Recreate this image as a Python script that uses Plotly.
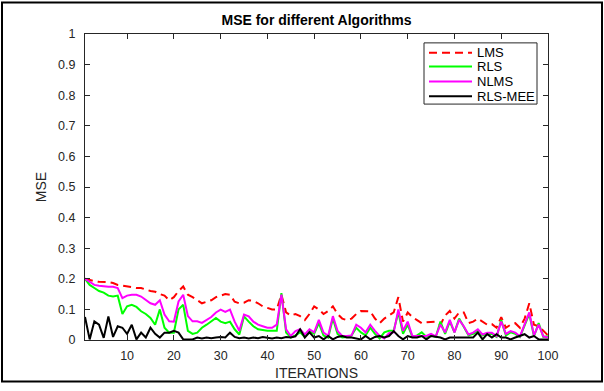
import plotly.graph_objects as go

iterations = list(range(1, 101))

lms = [0.200, 0.195, 0.192, 0.190, 0.190, 0.189, 0.186, 0.180, 0.178, 0.175,
       0.172, 0.170, 0.170, 0.165, 0.160, 0.158, 0.150, 0.145, 0.130, 0.140,
       0.160, 0.175, 0.148, 0.140, 0.130, 0.120, 0.125, 0.130, 0.140, 0.145,
       0.150, 0.148, 0.125, 0.120, 0.122, 0.130, 0.128, 0.120, 0.110, 0.105,
       0.100, 0.100, 0.148, 0.090, 0.080, 0.085, 0.078, 0.065, 0.085, 0.110,
       0.100, 0.085, 0.095, 0.110, 0.085, 0.070, 0.065, 0.070, 0.085, 0.095,
       0.095, 0.094, 0.070, 0.055, 0.070, 0.080, 0.090, 0.140, 0.060, 0.090,
       0.075, 0.065, 0.055, 0.058, 0.058, 0.060, 0.050, 0.080, 0.095, 0.070,
       0.090, 0.090, 0.055, 0.060, 0.070, 0.060, 0.050, 0.052, 0.040, 0.075,
       0.040, 0.050, 0.055, 0.040, 0.070, 0.120, 0.050, 0.045, 0.030, 0.015]

rls = [0.200, 0.180, 0.170, 0.160, 0.155, 0.145, 0.142, 0.145, 0.085, 0.110,
       0.115, 0.108, 0.094, 0.085, 0.072, 0.050, 0.100, 0.040, 0.024, 0.024,
       0.100, 0.115, 0.030, 0.020, 0.024, 0.040, 0.050, 0.060, 0.072, 0.060,
       0.055, 0.060, 0.035, 0.018, 0.077, 0.060, 0.045, 0.035, 0.032, 0.030,
       0.030, 0.030, 0.153, 0.024, 0.008, 0.015, 0.025, 0.010, 0.030, 0.020,
       0.055, 0.015, 0.008, 0.070, 0.020, 0.008, 0.010, 0.015, 0.040, 0.025,
       0.015, 0.040, 0.020, 0.005, 0.025, 0.030, 0.030, 0.090, 0.020, 0.050,
       0.010, 0.015, 0.025, 0.010, 0.015, 0.010, 0.060, 0.020, 0.060, 0.025,
       0.070, 0.040, 0.015, 0.020, 0.030, 0.015, 0.020, 0.020, 0.010, 0.065,
       0.015, 0.025, 0.020, 0.010, 0.045, 0.085, 0.012, 0.055, 0.010, 0.012]

nlms = [0.200, 0.190, 0.180, 0.177, 0.175, 0.174, 0.174, 0.170, 0.137, 0.145,
        0.148, 0.148, 0.142, 0.130, 0.120, 0.115, 0.130, 0.083, 0.061, 0.060,
        0.126, 0.148, 0.078, 0.061, 0.061, 0.056, 0.065, 0.075, 0.090, 0.099,
        0.092, 0.099, 0.060, 0.030, 0.083, 0.077, 0.060, 0.050, 0.045, 0.040,
        0.040, 0.050, 0.148, 0.035, 0.013, 0.029, 0.035, 0.018, 0.035, 0.025,
        0.066, 0.024, 0.014, 0.078, 0.030, 0.013, 0.013, 0.015, 0.050, 0.040,
        0.025, 0.050, 0.030, 0.013, 0.005, 0.022, 0.025, 0.100, 0.030, 0.060,
        0.013, 0.012, 0.013, 0.013, 0.020, 0.012, 0.050, 0.025, 0.066, 0.025,
        0.066, 0.045, 0.018, 0.024, 0.035, 0.018, 0.024, 0.024, 0.013, 0.060,
        0.020, 0.029, 0.024, 0.012, 0.050, 0.090, 0.015, 0.050, 0.012, 0.008]

rls_mee = [0.075, 0.002, 0.061, 0.050, 0.007, 0.077, 0.010, 0.045, 0.040, 0.020,
           0.050, 0.002, 0.024, 0.008, 0.040, 0.020, 0.008, 0.024, 0.024, 0.030,
           0.024, 0.002, 0.002, 0.002, 0.008, 0.005, 0.008, 0.006, 0.008, 0.010,
           0.008, 0.024, 0.010, 0.006, 0.008, 0.005, 0.008, 0.006, 0.010, 0.008,
           0.005, 0.008, 0.006, 0.010, 0.008, 0.012, 0.035, 0.008, 0.025, 0.008,
           0.013, 0.002, 0.013, 0.002, 0.010, 0.013, 0.008, 0.008, 0.004, 0.002,
           0.013, 0.002, 0.010, 0.013, 0.008, 0.013, 0.029, 0.013, 0.002, 0.013,
           0.008, 0.008, 0.013, 0.002, 0.013, 0.010, 0.008, 0.002, 0.008, 0.008,
           0.008, 0.008, 0.008, 0.008, 0.024, 0.002, 0.019, 0.008, 0.019, 0.008,
           0.008, 0.002, 0.008, 0.013, 0.019, 0.008, 0.013, 0.002, 0.002, 0.002]

series_names = ["LMS", "RLS", "NLMS", "RLS-MEE"]
series_values = [lms, rls, nlms, rls_mee]
series_colors = ["#FF0000", "#00FF00", "#FF00FF", "#000000"]
series_dash = ["8px,5px", "solid", "solid", "solid"]

x_ticks = [10, 20, 30, 40, 50, 60, 70, 80, 90, 100]
y_ticks = [0, 0.1, 0.2, 0.3, 0.4, 0.5, 0.6, 0.7, 0.8, 0.9, 1]
y_tick_labels = ["0", "0.1", "0.2", "0.3", "0.4", "0.5", "0.6", "0.7", "0.8", "0.9", "1"]

# plot-area geometry in pixels
L, R, T, B = 85, 548, 34, 344
W, H = R - L, B - T


def px(x):
    return (x - L) / W


def py(y):
    return (B - y) / H


FONT = "Liberation Sans, Arial, sans-serif"

fig = go.Figure()
for name, vals, col, dash in zip(series_names, series_values, series_colors, series_dash):
    fig.add_trace(go.Scatter(x=iterations, y=vals, mode="lines", name=name,
                             line=dict(color=col, width=2, dash=dash), showlegend=False,
                             hoverinfo="skip"))

axis_common = dict(showline=True, linecolor="#262626", linewidth=1, mirror="ticks",
                   ticks="inside", ticklen=5, tickcolor="#262626", showgrid=False,
                   zeroline=False, tickfont=dict(family=FONT, size=12.5, color="#262626"))

shapes = [dict(type="rect", xref="paper", yref="paper",
               x0=px(2), x1=px(602), y0=py(386), y1=py(2),
               line=dict(color="black", width=2), fillcolor="rgba(0,0,0,0)", layer="below"),
          dict(type="rect", xref="paper", yref="paper",
               x0=px(424), x1=px(537), y0=py(105), y1=py(43),
               line=dict(color="#262626", width=1), fillcolor="white", layer="above")]
annotations = []
row_y = [53, 67, 82, 97]
for name, col, dash, ry in zip(series_names, series_colors, series_dash, row_y):
    shapes.append(dict(type="line", xref="paper", yref="paper",
                       x0=px(429), x1=px(472), y0=py(ry), y1=py(ry),
                       line=dict(color=col, width=2, dash=dash), layer="above"))
    annotations.append(dict(text=name, xref="paper", yref="paper", x=px(475), y=py(ry),
                            xanchor="left", yanchor="middle", showarrow=False,
                            font=dict(family=FONT, size=13, color="#000000")))

fig.update_layout(
    width=604, height=391,
    margin=dict(l=L, r=604 - R, t=T, b=391 - B),
    paper_bgcolor="white", plot_bgcolor="white",
    title=dict(text="<b>MSE for different Algorithms</b>", x=(L + R) / 2 / 604, xanchor="center",
               y=1 - 20 / 391, yanchor="middle",
               font=dict(family=FONT, size=14, color="#000000")),
    xaxis=dict(range=[1, 100], tickvals=x_ticks, ticklabelstandoff=4,
               title=dict(text="ITERATIONS", standoff=6,
                          font=dict(family=FONT, size=14, color="#262626")),
               **axis_common),
    yaxis=dict(range=[0, 1], tickvals=y_ticks, ticktext=y_tick_labels, ticklabelstandoff=6,
               title=dict(text="MSE", standoff=8,
                          font=dict(family=FONT, size=14, color="#262626")),
               **axis_common),
    showlegend=False,
    hovermode=False,
    shapes=shapes,
    annotations=annotations,
)

fig.write_html("out.html", config={"displayModeBar": False, "staticPlot": True},
               post_script="document.body.style.margin='0';document.body.style.overflow='hidden';")
